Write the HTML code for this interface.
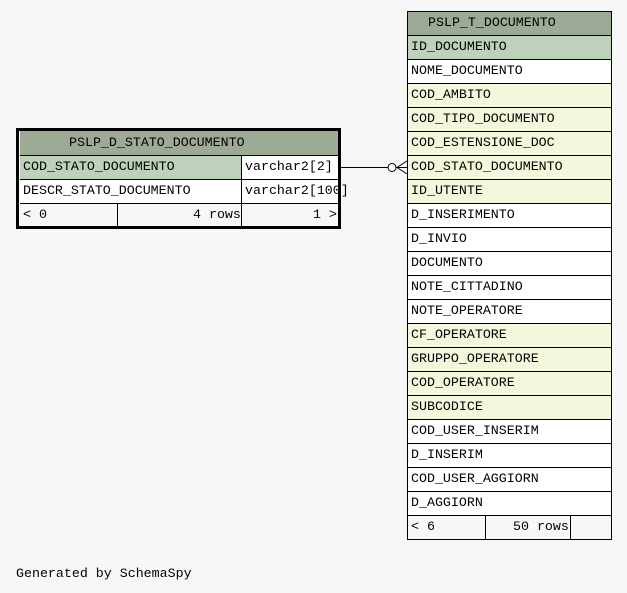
<!DOCTYPE html>
<html><head><meta charset="utf-8"><style>
html,body{margin:0;padding:0;background:#f7f7f7;}
svg{display:block;}
text{font-family:"Liberation Mono",monospace;font-size:13.3px;fill:#000;}
</style></head><body>
<svg width="627" height="593" viewBox="0 0 627 593" xmlns="http://www.w3.org/2000/svg">
<rect width="627" height="593" fill="#f7f7f7"/>
<rect x="17.5" y="129.5" width="322" height="98" fill="#fff" stroke="#000" stroke-width="3"/>
<rect x="20" y="131" width="318" height="24" fill="#9dab96"/>
<rect x="20" y="155" width="221" height="24" fill="#bed1ba"/>
<rect x="241" y="155" width="97" height="24" fill="#fff"/>
<rect x="20" y="179" width="318" height="24" fill="#fff"/>
<rect x="20" y="203" width="318" height="23" fill="#f7f7f7"/>
<g stroke="#000" stroke-width="1">
<line x1="20" y1="155.5" x2="338" y2="155.5"/>
<line x1="20" y1="179.5" x2="338" y2="179.5"/>
<line x1="20" y1="203.5" x2="338" y2="203.5"/>
<line x1="241.5" y1="155" x2="241.5" y2="226"/>
<line x1="117.5" y1="203" x2="117.5" y2="226"/>
</g>
<g transform="translate(0,-2)">
<text x="69" y="148">PSLP_D_STATO_DOCUMENTO</text>
<text x="23" y="172">COD_STATO_DOCUMENTO</text>
<text x="245" y="172">varchar2[2]</text>
<text x="23" y="196">DESCR_STATO_DOCUMENTO</text>
<text x="245" y="196">varchar2[100]</text>
<text x="23" y="220">&lt; 0</text>
<text x="193" y="220">4 rows</text>
<text x="313" y="220">1 &gt;</text>
</g>
<line x1="341" y1="167.5" x2="388" y2="167.5" stroke="#000"/>
<circle cx="392" cy="167.5" r="4" fill="#fff" stroke="#000"/>
<line x1="396" y1="167.5" x2="407" y2="167.5" stroke="#000"/>
<line x1="397" y1="167.5" x2="407" y2="161" stroke="#000"/>
<line x1="397" y1="167.5" x2="407" y2="174" stroke="#000"/>
<rect x="407.5" y="11.5" width="204" height="528" fill="#fff" stroke="#000"/>
<rect x="408" y="12" width="203" height="23" fill="#9dab96"/>
<rect x="408" y="35" width="203" height="24" fill="#bed1ba"/>
<g fill="#f4f7dc">
<rect x="408" y="83" width="203" height="120"/>
<rect x="408" y="323" width="203" height="96"/>
</g>
<rect x="408" y="515" width="203" height="24" fill="#f7f7f7"/>
<g stroke="#000" stroke-width="1">
<line x1="407" y1="35.5" x2="611" y2="35.5"/>
<line x1="407" y1="59.5" x2="611" y2="59.5"/>
<line x1="407" y1="83.5" x2="611" y2="83.5"/>
<line x1="407" y1="107.5" x2="611" y2="107.5"/>
<line x1="407" y1="131.5" x2="611" y2="131.5"/>
<line x1="407" y1="155.5" x2="611" y2="155.5"/>
<line x1="407" y1="179.5" x2="611" y2="179.5"/>
<line x1="407" y1="203.5" x2="611" y2="203.5"/>
<line x1="407" y1="227.5" x2="611" y2="227.5"/>
<line x1="407" y1="251.5" x2="611" y2="251.5"/>
<line x1="407" y1="275.5" x2="611" y2="275.5"/>
<line x1="407" y1="299.5" x2="611" y2="299.5"/>
<line x1="407" y1="323.5" x2="611" y2="323.5"/>
<line x1="407" y1="347.5" x2="611" y2="347.5"/>
<line x1="407" y1="371.5" x2="611" y2="371.5"/>
<line x1="407" y1="395.5" x2="611" y2="395.5"/>
<line x1="407" y1="419.5" x2="611" y2="419.5"/>
<line x1="407" y1="443.5" x2="611" y2="443.5"/>
<line x1="407" y1="467.5" x2="611" y2="467.5"/>
<line x1="407" y1="491.5" x2="611" y2="491.5"/>
<line x1="407" y1="515.5" x2="611" y2="515.5"/>
<line x1="485.5" y1="515" x2="485.5" y2="539"/>
<line x1="570.5" y1="515" x2="570.5" y2="539"/>
</g>
<g transform="translate(0,-2)">
<text x="428" y="28">PSLP_T_DOCUMENTO</text>
<text x="411" y="52">ID_DOCUMENTO</text>
<text x="411" y="76">NOME_DOCUMENTO</text>
<text x="411" y="100">COD_AMBITO</text>
<text x="411" y="124">COD_TIPO_DOCUMENTO</text>
<text x="411" y="148">COD_ESTENSIONE_DOC</text>
<text x="411" y="172">COD_STATO_DOCUMENTO</text>
<text x="411" y="196">ID_UTENTE</text>
<text x="411" y="220">D_INSERIMENTO</text>
<text x="411" y="244">D_INVIO</text>
<text x="411" y="268">DOCUMENTO</text>
<text x="411" y="292">NOTE_CITTADINO</text>
<text x="411" y="316">NOTE_OPERATORE</text>
<text x="411" y="340">CF_OPERATORE</text>
<text x="411" y="364">GRUPPO_OPERATORE</text>
<text x="411" y="388">COD_OPERATORE</text>
<text x="411" y="412">SUBCODICE</text>
<text x="411" y="436">COD_USER_INSERIM</text>
<text x="411" y="460">D_INSERIM</text>
<text x="411" y="484">COD_USER_AGGIORN</text>
<text x="411" y="508">D_AGGIORN</text>
<text x="411" y="532">&lt; 6</text>
<text x="513" y="532">50 rows</text>
<text x="16" y="579">Generated by SchemaSpy</text>
</g>
</svg>
</body></html>
